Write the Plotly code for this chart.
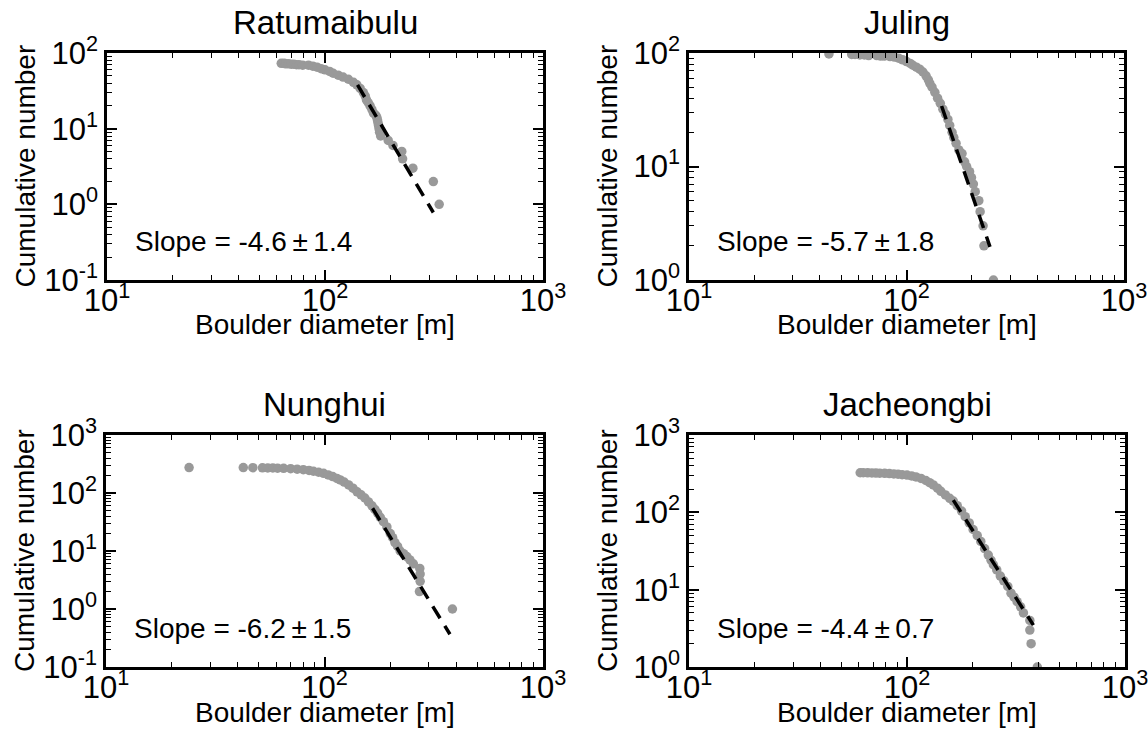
import plotly.graph_objects as go
from plotly.subplots import make_subplots

# ---------------- data ----------------
titles = ["Ratumaibulu", "Juling", "Nunghui", "Jacheongbi"]
slope_labels = ["Slope = -4.6\u2009\u00b1\u20091.4", "Slope = -5.7\u2009\u00b1\u20091.8",
                "Slope = -6.2\u2009\u00b1\u20091.5", "Slope = -4.4\u2009\u00b1\u20090.7"]

ratu_d = [63, 65, 66, 68, 70, 72, 74, 76, 79, 84, 88, 92, 96, 100, 105, 109, 115, 121, 128,
          135, 140, 145, 150, 153, 155, 158, 161, 164, 167, 171, 173, 174, 175, 176, 177, 178,
          180, 195, 205, 225, 227, 253, 314, 334]
ratu_n = [73, 73, 72, 72, 71, 71, 70, 70, 69, 69, 67, 65, 62, 60, 57, 54, 51, 48, 45,
          41, 38, 34, 30, 27, 24, 22, 20, 18, 16, 15, 14, 13, 12, 11, 10, 9,
          8, 7, 6, 5, 4, 3, 2, 1]

jul_d = [44, 56, 58, 61, 64, 67, 73, 76, 79, 84, 88, 92, 96, 100, 104, 107, 111, 115, 119,
         123, 126, 128, 131, 135, 139, 143, 147, 151, 155, 158, 162, 165, 169, 174, 180, 185,
         189, 195, 199, 203, 207, 215, 218, 225, 227, 251]
jul_n = [98, 97, 97, 96, 96, 95, 95, 94, 94, 93, 92, 90, 87, 84, 81, 78, 75, 72, 68,
         63, 58, 54, 50, 45, 40, 36, 32, 29, 26, 23, 20, 18, 16, 14, 13, 11,
         10, 9, 8, 7, 6, 5, 4, 3, 2, 1]

nun_d = [24, 42.5, 47, 52, 55, 58, 61, 65, 70, 75, 80, 85, 89, 94, 99, 104, 109, 114, 118,
         123, 129, 135, 141, 147, 153, 159, 165, 170, 175, 180, 186, 193, 200, 205, 210, 216,
         222, 230, 238, 246, 255, 273, 274, 274, 272, 385]
nun_n = [275, 274, 273, 272, 271, 270, 268, 266, 263, 258, 252, 245, 237, 228, 218, 205, 192,
         178, 168, 154, 138, 121, 105, 93, 82, 70, 60, 52, 45, 38, 32, 26, 20, 17, 14, 12,
         10, 9, 8, 7, 6, 5, 4, 3, 2, 1]

jac_d = [61, 63, 66, 69, 72, 75, 79, 83, 87, 91, 95, 100, 105, 110, 116, 122, 127, 132, 138,
         143, 150, 157, 163, 170, 178, 185, 193, 201, 210, 218, 227, 236, 243, 249, 258, 268,
         278, 290, 300, 310, 320, 332, 342, 366, 366, 371, 396]
jac_n = [325, 325, 324, 323, 322, 321, 319, 317, 314, 311, 307, 303, 296, 287, 274, 258, 242,
         226, 205, 187, 168, 152, 140, 122, 104, 88, 73, 60, 50, 42, 34, 28, 24, 21, 18, 15,
         13, 11, 9, 8, 7, 6, 5, 4, 3, 2, 1]

# fitted power-law segment end points
fit_x = [[141, 314], [145, 242], [166, 375], [163, 380]]
fit_y = [[37.8, 0.78], [34.1, 1.96], [54.5, 0.367], [144, 3.48]]

diam = [ratu_d, jul_d, nun_d, jac_d]
cum = [ratu_n, jul_n, nun_n, jac_n]
yranges = [[-1, 2], [0, 2], [-1, 3], [0, 3]]

# ---------------- figure ----------------
W, H = 1148, 746
FONT = "Liberation Sans, Arial, sans-serif"
TICKSIZE = 31
fig = make_subplots(rows=2, cols=2)

# plot-area pixel boxes (left, right, top, bottom)
boxes = [(107, 543, 53, 280), (689, 1124, 53, 280), (106, 543, 435, 667), (689, 1125, 435, 667)]

def sup(e):
    return "10<sup>%d</sup>" % e

for i in range(4):
    r, c = i // 2 + 1, i % 2 + 1
    fig.add_trace(go.Scatter(x=diam[i], y=cum[i], mode="markers",
                             marker=dict(color="#999999", size=9.5, line=dict(width=0)),
                             showlegend=False), row=r, col=c)
    fig.add_trace(go.Scatter(x=fit_x[i], y=fit_y[i], mode="lines",
                             line=dict(color="black", width=3.5, dash="14px,9px"),
                             showlegend=False), row=r, col=c)
    L, R, T, B = boxes[i]
    xdom = [L / W, R / W]
    ydom = [1 - B / H, 1 - T / H]
    common = dict(type="log", showline=True, linecolor="black", linewidth=2.6,
                  mirror="allticks", ticks="inside", ticklen=10, tickwidth=1.5,
                  tickcolor="black", showgrid=False, zeroline=False, automargin=False,
                  ticklabeloverflow="allow",
                  tickfont=dict(family=FONT, size=TICKSIZE, color="black"))
    xt = [1, 2, 3]
    fig.update_xaxes(domain=xdom, range=[1, 3], tickmode="array",
                     tickvals=[10 ** e for e in xt], ticktext=[sup(e) for e in xt],
                     ticklabelstandoff=-9,
                     minor=dict(ticks="inside", ticklen=5, tickwidth=1.2, tickcolor="black",
                                tickmode="array",
                                tickvals=[m * 10 ** k for k in range(1, 3) for m in range(2, 10)],
                                showgrid=False),
                     row=r, col=c, **common)
    y0, y1 = yranges[i]
    yt = list(range(y0, y1 + 1))
    fig.update_yaxes(domain=ydom, range=[y0, y1], tickmode="array",
                     tickvals=[10 ** e for e in yt], ticktext=[sup(e) for e in yt],
                     minor=dict(ticks="inside", ticklen=5, tickwidth=1.2, tickcolor="black",
                                tickmode="array",
                                tickvals=[m * 10 ** k for k in range(y0, y1) for m in range(2, 10)],
                                showgrid=False),
                     row=r, col=c, **common)
    # title
    fig.add_annotation(x=(L + R) / 2 / W, y=1 - (T - 31) / H, xref="paper", yref="paper",
                       text=titles[i], showarrow=False, xanchor="center", yanchor="middle",
                       font=dict(family=FONT, size=33, color="black"))
    # x-axis title
    fig.add_annotation(x=(L + R) / 2 / W, y=1 - (B + 45) / H, xref="paper", yref="paper",
                       text="Boulder diameter [m]", showarrow=False, xanchor="center",
                       yanchor="middle", font=dict(family=FONT, size=28, color="black"))
    # y-axis title
    fig.add_annotation(x=(L - 82) / W, y=1 - (T + B) / 2 / H, xref="paper", yref="paper",
                       text="Cumulative number", showarrow=False, textangle=-90,
                       xanchor="center", yanchor="middle",
                       font=dict(family=FONT, size=28, color="black"))
    # slope annotation
    fig.add_annotation(x=(L + 26) / W, y=1 - (B - 39) / H, xref="paper", yref="paper",
                       text=slope_labels[i], showarrow=False, xanchor="left", yanchor="middle",
                       font=dict(family=FONT, size=28, color="black"))

fig.update_layout(width=W, height=H, margin=dict(l=0, r=0, t=0, b=0),
                  paper_bgcolor="white", plot_bgcolor="white", showlegend=False,
                  font=dict(family=FONT, color="black"))

fig.write_html("out.html")
